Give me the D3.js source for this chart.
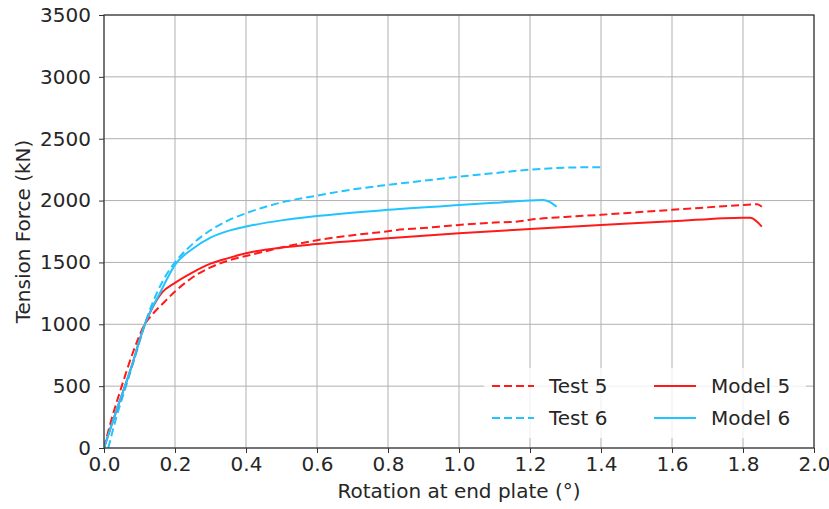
<!DOCTYPE html>
<html>
<head>
<meta charset="utf-8">
<script src="https://cdn.jsdelivr.net/npm/d3@7"></script>
<style>
  body { margin: 0; background: #fff; }
  svg { display: block; font-family: "DejaVu Sans", sans-serif; }
</style>
</head>
<body>
<svg id="chart" width="829" height="509"></svg>
<script>
// ---- data ----
const xTicks = [0.0, 0.2, 0.4, 0.6, 0.8, 1.0, 1.2, 1.4, 1.6, 1.8, 2.0];
const yTicks = [0, 500, 1000, 1500, 2000, 2500, 3000, 3500];
const seriesNames = ["Test 5", "Test 6", "Model 5", "Model 6"];

const test5 = [[0,0],[0.02,220],[0.05,500],[0.08,760],[0.115,1000],[0.139,1089],[0.17,1180],[0.2,1265],[0.25,1380],[0.3,1460],[0.35,1515],[0.4,1552],[0.5,1620],[0.6,1680],[0.7,1720],[0.8,1752],[0.82,1760],[0.9,1778],[1.0,1803],[1.1,1822],[1.17,1832],[1.2,1845],[1.3,1868],[1.4,1885],[1.5,1905],[1.6,1925],[1.7,1945],[1.8,1964],[1.84,1970],[1.853,1950]];
const test6 = [[0.012,0],[0.035,250],[0.062,500],[0.09,760],[0.115,1000],[0.15,1260],[0.18,1420],[0.2,1500],[0.25,1650],[0.3,1760],[0.35,1840],[0.4,1897],[0.5,1985],[0.6,2040],[0.7,2090],[0.8,2127],[0.9,2160],[1.0,2193],[1.1,2222],[1.2,2250],[1.3,2266],[1.4,2270]];
const model5 = [[0,0],[0.02,175],[0.04,345],[0.059,500],[0.08,680],[0.1,870],[0.115,1000],[0.135,1125],[0.163,1255],[0.2,1335],[0.25,1420],[0.3,1490],[0.35,1535],[0.4,1574],[0.5,1620],[0.6,1648],[0.8,1695],[1.0,1735],[1.2,1770],[1.4,1803],[1.6,1832],[1.8,1862],[1.82,1862],[1.853,1790]];
const model6 = [[0,0],[0.02,175],[0.04,345],[0.059,500],[0.08,680],[0.1,870],[0.115,1000],[0.135,1130],[0.158,1255],[0.18,1380],[0.2,1480],[0.25,1610],[0.3,1700],[0.35,1755],[0.4,1790],[0.5,1840],[0.6,1875],[0.8,1925],[1.0,1964],[1.1,1982],[1.237,2005],[1.255,1990],[1.275,1950]];

const RED = "#ff1a1a", BLUE = "#22c4ff";
const series = [
  {name: seriesNames[0], data: test5, color: RED, dash: "8,4"},
  {name: seriesNames[1], data: test6, color: BLUE, dash: "8,4"},
  {name: seriesNames[2], data: model5, color: RED, dash: null},
  {name: seriesNames[3], data: model6, color: BLUE, dash: null}
];

// ---- layout ----
const W = 829, H = 509;
const m = {left: 104, top: 15, right: 15, bottom: 61};
const iw = W - m.left - m.right, ih = H - m.top - m.bottom;
const svg = d3.select("#chart");
const g = svg.append("g").attr("transform", `translate(${m.left},${m.top})`);

const x = d3.scaleLinear().domain([0, 2]).range([0, iw]);
const y = d3.scaleLinear().domain([0, 3500]).range([ih, 0]);

// grid
g.append("g").selectAll("line").data(xTicks).join("line")
  .attr("x1", d => x(d)).attr("x2", d => x(d)).attr("y1", 0).attr("y2", ih)
  .attr("stroke", "#b0b0b0").attr("stroke-width", 1);
g.append("g").selectAll("line").data(yTicks).join("line")
  .attr("y1", d => y(d)).attr("y2", d => y(d)).attr("x1", 0).attr("x2", iw)
  .attr("stroke", "#b0b0b0").attr("stroke-width", 1);

// lines
const line = d3.line().x(d => x(d[0])).y(d => y(d[1])).curve(d3.curveMonotoneX);
svg.append("clipPath").attr("id", "clip").append("rect")
  .attr("width", iw).attr("height", ih);
g.append("g").attr("clip-path", "url(#clip)").selectAll("path").data(series).join("path")
  .attr("d", d => line(d.data))
  .attr("fill", "none")
  .attr("stroke", d => d.color)
  .attr("stroke-width", 2)
  .attr("stroke-dasharray", d => d.dash);

// axes
const fs = "20px";
const xAxis = g.append("g").attr("transform", `translate(0,${ih})`)
  .call(d3.axisBottom(x).tickValues(xTicks).tickFormat(d3.format(".1f")).tickSize(5).tickPadding(4));
const yAxis = g.append("g")
  .call(d3.axisLeft(y).tickValues(yTicks).tickFormat(d3.format("d")).tickSize(5).tickPadding(8));
[xAxis, yAxis].forEach(a => {
  a.select(".domain").remove();
  a.selectAll("text").attr("font-size", fs).attr("fill", "#262626").attr("font-family", "DejaVu Sans");
  a.selectAll(".tick line").attr("stroke", "#333").attr("stroke-width", 1);
});

// spines
g.append("rect").attr("width", iw).attr("height", ih)
  .attr("fill", "none").attr("stroke", "#333").attr("stroke-width", 1.2);

// labels
svg.append("text").attr("x", m.left + iw / 2).attr("y", 498)
  .attr("text-anchor", "middle").attr("font-size", fs).attr("fill", "#262626")
  .text("Rotation at end plate (°)");
svg.append("text")
  .attr("transform", `translate(30,${m.top + ih / 2}) rotate(-90)`)
  .attr("text-anchor", "middle").attr("font-size", fs).attr("fill", "#262626")
  .text("Tension Force (kN)");

// legend
const lg = g.append("g");
lg.append("rect").attr("x", 484 - m.left).attr("y", 368 - m.top)
  .attr("width", 322).attr("height", 70).attr("rx", 3)
  .attr("fill", "#fff").attr("fill-opacity", 0.8);
const legPos = [
  {lx: 492, ty: 386}, {lx: 492, ty: 418}, {lx: 654, ty: 386}, {lx: 654, ty: 418}
];
series.forEach((s, i) => {
  const p = legPos[i];
  lg.append("line")
    .attr("x1", p.lx - m.left).attr("x2", p.lx + 42 - m.left)
    .attr("y1", p.ty - m.top).attr("y2", p.ty - m.top)
    .attr("stroke", s.color).attr("stroke-width", 2).attr("stroke-dasharray", s.dash);
  lg.append("text")
    .attr("x", p.lx + 57 - m.left).attr("y", p.ty - m.top).attr("dy", "0.35em")
    .attr("font-size", fs).attr("fill", "#262626").text(s.name);
});
</script>
</body>
</html>
